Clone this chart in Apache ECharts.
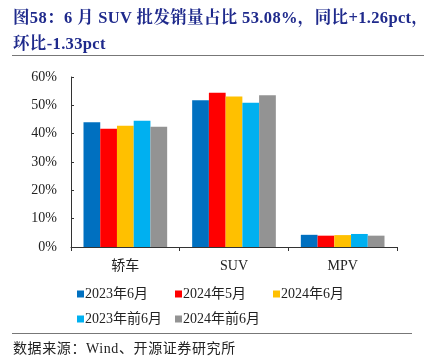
<!DOCTYPE html>
<html><head><meta charset="utf-8">
<script src="https://cdn.jsdelivr.net/npm/echarts@6/dist/echarts.min.js"></script>
<style>
html,body{margin:0;padding:0;background:#fff;}
#t{position:absolute;left:13px;top:5px;width:425px;font-family:"Liberation Serif","Noto Serif CJK SC","Noto Sans CJK SC",serif;font-weight:bold;font-size:16.5px;line-height:26px;color:#1f2a8c;white-space:nowrap;letter-spacing:0.35px;}
#l1{position:absolute;left:12px;top:55px;width:412px;height:0;border-top:1.5px solid #777;}
#l2{position:absolute;left:12px;top:333px;width:400px;height:0;border-top:1.5px solid #777;}
#s{position:absolute;left:13px;top:337px;font-family:"Liberation Serif","Noto Sans CJK SC",serif;font-size:14px;color:#222;letter-spacing:0.6px;}
#c{position:absolute;left:0;top:0;width:438px;height:362px;}
</style></head>
<body>
<div id="c"></div>
<div id="t">图58：6 月 SUV 批发销量占比 53.08%，同比+1.26pct，<br>环比-1.33pct</div>
<div id="l1"></div>
<div id="l2"></div>
<div id="s">数据来源：Wind、开源证券研究所</div>
<script>
const categories = ['轿车','SUV','MPV'];
const seriesNames = ['2023年6月','2024年5月','2024年6月','2023年前6月','2024年前6月'];
const s2023Jun = [44.0, 51.82, 4.3];
const s2024May = [41.7, 54.41, 4.0];
const s2024Jun = [42.8, 53.08, 4.2];
const s2023H1 = [44.6, 50.9, 4.6];
const s2024H1 = [42.4, 53.6, 4.0];
const yTicks = [0,10,20,30,40,50,60];
const colors = ['#0070C0','#FF0000','#FFC000','#00B0F0','#939393'];
const data = [s2023Jun,s2024May,s2024Jun,s2023H1,s2024H1];
const font = '"Liberation Serif","Noto Sans CJK SC",serif';
const legendPos = [[77,287],[175,287],[273,287],[77,312],[175,312]];
const chart = echarts.init(document.getElementById('c'));
chart.setOption({
  animation:false,
  grid:{left:71,right:41,top:77,bottom:115},
  legend: seriesNames.map((n,i)=>({
    left:legendPos[i][0], top:legendPos[i][1], itemWidth:7, itemHeight:7, padding:0,
    icon:'rect',
    textStyle:{fontFamily:font,fontSize:14,color:'#222',padding:[0,0,0,-4]},
    data:[n]
  })),
  xAxis:{type:'category',data:categories,
    axisLine:{lineStyle:{color:'#333',width:1}},
    axisTick:{show:true,alignWithLabel:false,length:4,lineStyle:{color:'#333'}},
    axisLabel:{fontFamily:font,fontSize:14,color:'#222',margin:12}
  },
  yAxis:{type:'value',min:yTicks[0],max:yTicks[yTicks.length-1],interval:10,
    axisLine:{show:true,lineStyle:{color:'#333',width:1}},
    axisTick:{show:true,inside:true,length:3,lineStyle:{color:'#333'}},
    splitLine:{show:false},
    axisLabel:{fontFamily:font,fontSize:14,color:'#222',margin:14,formatter:'{value}%'}
  },
  series: seriesNames.map((n,i)=>({
    name:n,type:'bar',data:data[i],barGap:'0%',barCategoryGap:'23%',
    itemStyle:{color:colors[i]}
  }))
});
</script>
</body></html>
